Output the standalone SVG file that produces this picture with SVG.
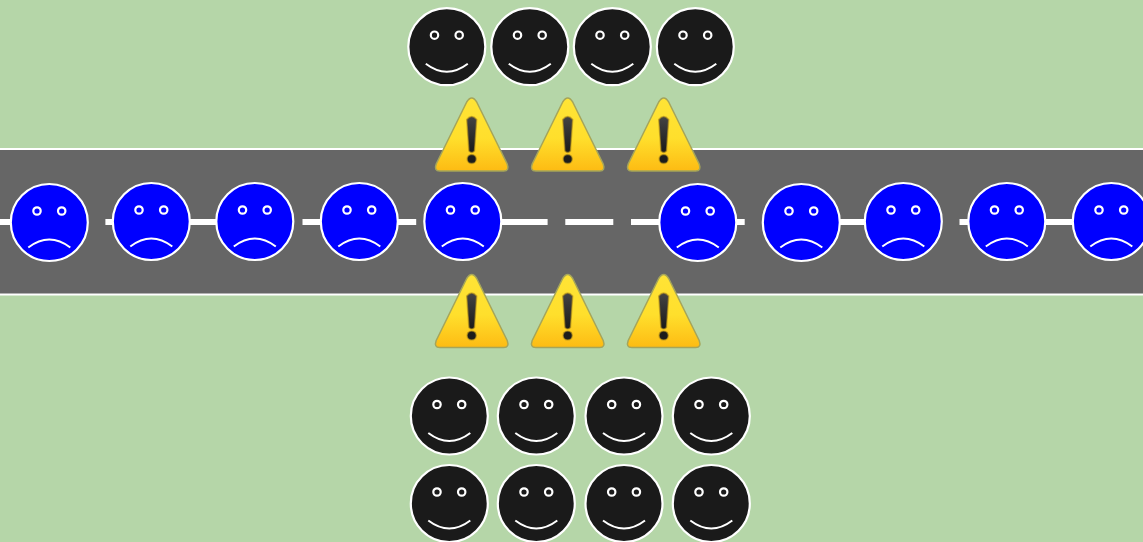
<svg xmlns="http://www.w3.org/2000/svg" width="1143" height="542" viewBox="0 0 1143 542">
<style>
.f{stroke:#fff;stroke-width:2.2}
.happy{fill:#1a1a1a}
.sad{fill:#00f}
.m{fill:none;stroke:#fff;stroke-width:2}
.tri{fill:url(#wg);stroke:#a5a55a;stroke-width:1.5;stroke-linejoin:round}
.bang{fill:#2b2b2b;stroke:#b8921a;stroke-opacity:.6;stroke-width:1.5}
</style>
<defs>
<linearGradient id="wg" x1="0" y1="0" x2="0" y2="1"><stop offset="0" stop-color="#ffe436"/><stop offset=".55" stop-color="#ffdf2c"/><stop offset="1" stop-color="#fdbb13"/></linearGradient>
<linearGradient id="bar" x1="0" y1="0" x2="0" y2="1"><stop offset="0" stop-color="#444"/><stop offset="1" stop-color="#1a1a1a"/></linearGradient>
<g id="smile">
<circle class="f happy" r="38.5"/>
<circle class="f happy" cx="-12.3" cy="-11.5" r="3.7"/>
<circle class="f happy" cx="12.4" cy="-11.5" r="3.7"/>
<path class="m" d="M-21 17Q0 33 21 17"/>
</g>
<g id="frown">
<circle class="f sad" r="38.5"/>
<circle class="f sad" cx="-12.3" cy="-11.5" r="3.7"/>
<circle class="f sad" cx="12.4" cy="-11.5" r="3.7"/>
<path class="m" d="M-21 25Q0 9 21 25"/>
</g>
<g id="warn">
<path class="tri" d="M-5 -33Q0 -41 5 -33L35.500 29Q38 36 32 36L-32 36Q-38 36 -35.500 29Z"/>
<path class="bang" style="fill:url(#bar)" d="M-5 -15.500Q0 -21.500 5 -15.500L2.800 16Q0 19 -2.800 16Z"/>
<circle class="bang" style="fill:#1c1c1c" cy="24" r="4.600"/>
</g>
</defs>
<rect id="ground" width="1143" height="542" fill="#b5d6a8"/>
<rect id="road" x="-4" y="149" width="1151" height="145.500" fill="#666" stroke="#fff" stroke-width="2"/>
<g id="connectors">
<path id="lane" d="M-91.700 222H1143" fill="none" stroke="#fff" stroke-width="6" stroke-dasharray="48 17.700"/>
</g>
<g id="s1"><use href="#frown" x="49.300" y="222.500"/></g>
<g id="s2"><use href="#frown" x="151.300" y="221.500"/></g>
<g id="s3"><use href="#frown" x="254.800" y="221.500"/></g>
<g id="s4"><use href="#frown" x="359.300" y="221.500"/></g>
<g id="s5"><use href="#frown" x="462.800" y="221.500"/></g>
<g id="s6"><use href="#frown" x="697.800" y="222.500"/></g>
<g id="s7"><use href="#frown" x="801.300" y="222.500"/></g>
<g id="s8"><use href="#frown" x="903.300" y="221.500"/></g>
<g id="s9"><use href="#frown" x="1006.800" y="221.500"/></g>
<g id="s10"><use href="#frown" x="1111.300" y="221.500"/></g>
<g id="h1"><use href="#smile" x="446.800" y="46.700"/></g>
<g id="h2"><use href="#smile" x="529.800" y="46.700"/></g>
<g id="h3"><use href="#smile" x="612.300" y="46.700"/></g>
<g id="h4"><use href="#smile" x="695.300" y="46.700"/></g>
<g id="h5"><use href="#smile" x="449.300" y="416"/></g>
<g id="h6"><use href="#smile" x="536.300" y="416"/></g>
<g id="h7"><use href="#smile" x="624" y="416"/></g>
<g id="h8"><use href="#smile" x="711.300" y="416"/></g>
<g id="h9"><use href="#smile" x="449.300" y="503.500"/></g>
<g id="h10"><use href="#smile" x="536.300" y="503.500"/></g>
<g id="h11"><use href="#smile" x="624" y="503.500"/></g>
<g id="h12"><use href="#smile" x="711.300" y="503.500"/></g>
<g id="w1"><use href="#warn" x="471.700" y="135"/></g>
<g id="w2"><use href="#warn" x="567.700" y="135"/></g>
<g id="w3"><use href="#warn" x="663.700" y="135"/></g>
<g id="w4"><use href="#warn" x="471.700" y="311.500"/></g>
<g id="w5"><use href="#warn" x="567.700" y="311.500"/></g>
<g id="w6"><use href="#warn" x="663.700" y="311.500"/></g>
</svg>
